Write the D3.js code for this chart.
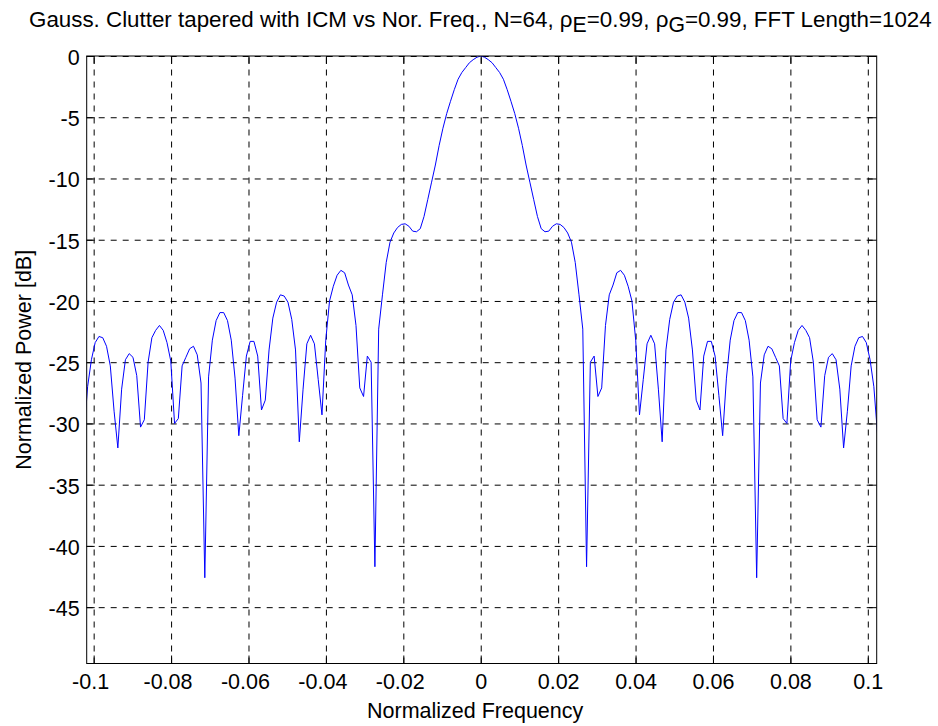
<!DOCTYPE html>
<html>
<head>
<meta charset="utf-8">
<script src="https://cdn.jsdelivr.net/npm/d3@7"></script>
<style>
  html, body { margin: 0; padding: 0; background: #fff; }
  svg text { font-family: "Liberation Sans", Arial, Helvetica, sans-serif; fill: #000; }
</style>
</head>
<body>
<svg id="chart" width="938" height="726"></svg>
<script>
// FFT grid: bins firstBin .. firstBin + powerDb.length - 1, frequency = bin / fftLength
const fftLength = 1024;
const firstBin = -105;

// Normalized power [dB] per FFT bin, from bin -105 to bin +105
const powerDb = [
  -31.0, -27.0, -24.8, -23.4, -22.9, -23.0, -23.7, -25.3, -29.0, -32.0,
  -27.2, -24.8, -24.3, -24.6, -26.1, -30.3, -29.7, -25.0, -23.0, -22.4,
  -22.0, -22.4, -23.4, -24.9, -30.0, -29.6, -25.3, -24.6, -23.9, -23.7,
  -24.4, -26.7, -42.6, -26.2, -23.2, -21.6, -20.95, -20.95, -21.6, -23.2,
  -26.3, -31.0, -27.7, -24.5, -23.3, -23.3, -24.5, -28.9, -28.1, -24.0,
  -21.4, -20.1, -19.5, -19.6, -20.1, -21.5, -24.0, -31.5, -27.2, -23.5,
  -22.8, -23.5, -26.4, -29.3, -23.2, -20.0, -18.8, -17.9, -17.5, -17.7,
  -18.7, -19.5, -22.0, -27.1, -27.8, -24.5, -25.0, -41.7, -22.3, -19.5,
  -16.85, -15.2, -14.45, -14.0, -13.75, -13.7, -13.9, -14.3, -14.35, -14.1,
  -13.1, -11.7, -10.3, -8.9, -7.3, -5.9, -4.7, -3.7, -2.75, -1.9,
  -1.35, -0.95, -0.55, -0.3, -0.1,
  0.0,
  -0.1, -0.3, -0.55, -0.95, -1.35,
  -1.9, -2.75, -3.7, -4.7, -5.9, -7.3, -8.9, -10.3, -11.7, -13.1,
  -14.1, -14.35, -14.3, -13.9, -13.7, -13.75, -14.0, -14.45, -15.2, -16.85,
  -19.5, -22.3, -41.7, -25.0, -24.5, -27.8, -27.1, -22.0, -19.5, -18.7,
  -17.7, -17.5, -17.9, -18.8, -20.0, -23.2, -29.3, -26.4, -23.5, -22.8,
  -23.5, -27.2, -31.5, -24.0, -21.5, -20.1, -19.6, -19.5, -20.1, -21.4,
  -24.0, -28.1, -28.9, -24.5, -23.3, -23.3, -24.5, -27.7, -31.0, -26.3,
  -23.2, -21.6, -20.95, -20.95, -21.6, -23.2, -26.2, -42.6, -26.7, -24.4,
  -23.7, -23.9, -24.6, -25.3, -29.6, -30.0, -24.9, -23.4, -22.4, -22.0,
  -22.4, -23.0, -25.0, -29.7, -30.3, -26.1, -24.6, -24.3, -24.8, -27.2,
  -32.0, -29.0, -25.3, -23.7, -23.0, -22.9, -23.4, -24.8, -27.0, -31.0
];

// Axis limits and ticks
const xLimits = [-0.1018, 0.1023];
const yLimits = [-49.6, 0];
const xTicks = [-0.1, -0.08, -0.06, -0.04, -0.02, 0, 0.02, 0.04, 0.06, 0.08, 0.1];
const xTickLabels = ["-0.1", "-0.08", "-0.06", "-0.04", "-0.02", "0", "0.02", "0.04", "0.06", "0.08", "0.1"];
const yTicks = [0, -5, -10, -15, -20, -25, -30, -35, -40, -45];
const yTickLabels = ["0", "-5", "-10", "-15", "-20", "-25", "-30", "-35", "-40", "-45"];

const xLabel = "Normalized Frequency";
const yLabel = "Normalized Power [dB]";
const titleParts = [
  { t: "Gauss. Clutter tapered with ICM vs Nor. Freq., N=64, \u03C1" },
  { t: "E", sub: true },
  { t: "=0.99, \u03C1" },
  { t: "G", sub: true },
  { t: "=0.99, FFT Length=1024" }
];

// Plot box in page pixels
const box = { left: 86.7, right: 876.7, top: 56, bottom: 663.5 };
const tickLen = 8;
const fontSize = 21.5;
const titleLeft = 29, titleWidth = 903;

const svg = d3.select("#chart");

const x = d3.scaleLinear().domain(xLimits).range([box.left, box.right]);
const y = d3.scaleLinear().domain(yLimits).range([box.bottom, box.top]);

const points = powerDb.map((v, i) => ({ f: (firstBin + i) / fftLength, db: v }));

svg.append("rect")
  .attr("x", 0).attr("y", 0).attr("width", 938).attr("height", 726)
  .attr("fill", "#fff");

// dashed grid
const grid = svg.append("g").attr("class", "grid");
grid.append("g")
  .attr("transform", `translate(0,${box.bottom})`)
  .call(d3.axisBottom(x).tickValues(xTicks).tickSize(-(box.bottom - box.top)).tickFormat(""))
  .call(g => g.select(".domain").remove());
grid.append("g")
  .attr("transform", `translate(${box.left},0)`)
  .call(d3.axisLeft(y).tickValues(yTicks).tickSize(-(box.right - box.left)).tickFormat(""))
  .call(g => g.select(".domain").remove());
grid.selectAll("line")
  .attr("stroke", "#000")
  .attr("stroke-width", 1)
  .attr("stroke-dasharray", "6,6");

// inward tick marks on all four sides
const tickGroups = svg.append("g").attr("class", "ticks");
tickGroups.append("g").attr("transform", `translate(0,${box.bottom})`)
  .call(d3.axisBottom(x).tickValues(xTicks).tickSize(-tickLen).tickFormat(""));
tickGroups.append("g").attr("transform", `translate(0,${box.top})`)
  .call(d3.axisTop(x).tickValues(xTicks).tickSize(-tickLen).tickFormat(""));
tickGroups.append("g").attr("transform", `translate(${box.left},0)`)
  .call(d3.axisLeft(y).tickValues(yTicks).tickSize(-tickLen).tickFormat(""));
tickGroups.append("g").attr("transform", `translate(${box.right},0)`)
  .call(d3.axisRight(y).tickValues(yTicks).tickSize(-tickLen).tickFormat(""));
tickGroups.selectAll(".domain").remove();
tickGroups.selectAll("line").attr("stroke", "#000").attr("stroke-width", 1);

// the spectrum curve, clipped to the axes
svg.append("clipPath").attr("id", "plot-clip")
  .append("rect")
  .attr("x", box.left).attr("y", box.top)
  .attr("width", box.right - box.left).attr("height", box.bottom - box.top);

const line = d3.line().x(d => x(d.f)).y(d => y(d.db));
svg.append("path")
  .datum(points)
  .attr("clip-path", "url(#plot-clip)")
  .attr("fill", "none")
  .attr("stroke", "#0000ff")
  .attr("stroke-width", 1)
  .attr("stroke-linejoin", "round")
  .attr("d", line);

// axes box
svg.append("rect")
  .attr("x", box.left).attr("y", box.top)
  .attr("width", box.right - box.left).attr("height", box.bottom - box.top)
  .attr("fill", "none").attr("stroke", "#000").attr("stroke-width", 1);

// tick labels (negative labels are centred on their digits, minus sign hangs left)
const xAxis = svg.append("g").attr("transform", `translate(0,${box.bottom})`)
  .call(d3.axisBottom(x).tickValues(xTicks).tickSize(0).tickPadding(10)
    .tickFormat((d, i) => xTickLabels[i]));
const yAxis = svg.append("g").attr("transform", `translate(${box.left},0)`)
  .call(d3.axisLeft(y).tickValues(yTicks).tickSize(0).tickPadding(7)
    .tickFormat((d, i) => yTickLabels[i]));
[xAxis, yAxis].forEach(a => {
  a.select(".domain").remove();
  a.selectAll("text").attr("font-size", fontSize)
    .attr("font-family", '"Liberation Sans", Arial, sans-serif').attr("fill", "#000");
});
xAxis.selectAll("text")
  .attr("dx", (d, i) => xTickLabels[i].startsWith("-") ? -fontSize * 0.1667 : 0);
yAxis.selectAll("text").attr("dy", "0.39em");

// axis titles
svg.append("text")
  .attr("x", 367).attr("y", 718)
  .attr("text-anchor", "start").attr("font-size", fontSize)
  .text(xLabel);
svg.append("text")
  .attr("transform", `translate(31,${(box.top + box.bottom) / 2}) rotate(-90)`)
  .attr("text-anchor", "middle").attr("font-size", fontSize)
  .text(yLabel);

// chart title with subscripts
const title = svg.append("text")
  .attr("x", titleLeft).attr("y", 26.5)
  .attr("text-anchor", "start").attr("font-size", fontSize);
titleParts.forEach((p, i) => {
  const prev = titleParts[i - 1];
  title.append("tspan")
    .attr("dy", p.sub ? 5 : (prev && prev.sub ? -5 : 0))
    .attr("font-size", p.sub ? fontSize * 0.95 : fontSize)
    .text(p.t);
});
// scale the title so it spans the same width as the figure title line
const natural = title.node().getComputedTextLength();
const scale = titleWidth / natural;
title.attr("font-size", fontSize * scale);
title.selectAll("tspan").each(function(d, i) {
  const p = titleParts[i];
  d3.select(this).attr("font-size", (p.sub ? fontSize * 0.95 : fontSize) * scale);
});
</script>
</body>
</html>
